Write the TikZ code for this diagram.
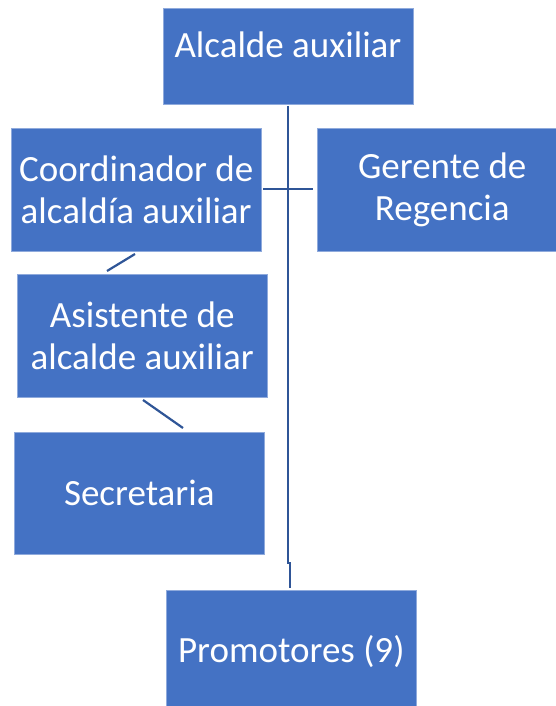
\documentclass[tikz,border=0pt]{standalone}
\usepackage{fontspec}
\setmainfont{Carlito}
\definecolor{boxblue}{HTML}{4472C4}
\definecolor{linkblue}{HTML}{2F5597}
\begin{document}
\begin{tikzpicture}[x=1pt,y=-1pt,
  box/.style={fill=boxblue, draw=boxblue!60!white, line width=0.5pt, inner sep=0pt, anchor=north west, minimum width=250pt},
  lbl/.style={text=white, font=\fontsize{37}{42}\selectfont, align=center, inner sep=0pt},
  link/.style={draw=linkblue, line width=2.2pt}]
\useasboundingbox (0,0) rectangle (555,706);
\fill[white] (0,0) rectangle (555,706);
% boxes
\node[box, minimum height=96pt] (alc) at (163,8) {};
\node[box, minimum height=123pt] (coo) at (11,128) {};
\node[box, minimum height=123pt] (ger) at (317,128) {};
\node[box, minimum height=123pt] (asi) at (17,274) {};
\node[box, minimum height=122pt] (sec) at (14,432) {};
\node[box, minimum height=122pt] (pro) at (166,590) {};
% labels
\node[lbl, anchor=base] (alct) at (288,58) {Alcalde auxiliar};
\node[lbl] (coot) at (coo.center) {Coordinador de\\alcaldía auxiliar};
\node[lbl] (gert) at (ger.center) {Gerente de\\Regencia};
\node[lbl] (asit) at (asi.center) {Asistente de\\alcalde auxiliar};
\node[lbl] (sect) at (sec.center) {Secretaria};
\node[lbl] (prot) at (pro.center) {Promotores (9)};
% connectors
\coordinate (vtop) at (288,106);
\coordinate (vmid) at (288,564);
\coordinate (vjog) at (290,562);
\coordinate (vbot) at (290,588);
\draw[link] (vtop) -- (vmid);
\draw[link] (vjog) -- (vbot);
\coordinate (h1) at (263,189);
\coordinate (h2) at (313,189);
\draw[link] (h1) -- (h2);
\coordinate (d1a) at (107,271);
\coordinate (d1b) at (135,254);
\draw[link] (d1a) -- (d1b);
\coordinate (d2a) at (143,400);
\coordinate (d2b) at (183,428);
\draw[link] (d2a) -- (d2b);
\end{tikzpicture}
\end{document}
